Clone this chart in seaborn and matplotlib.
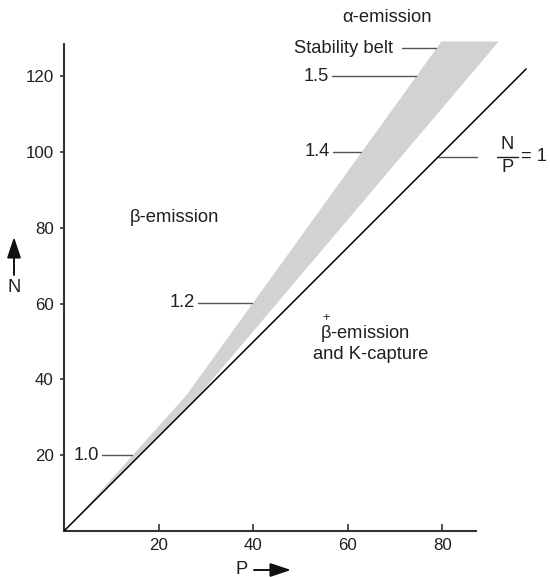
import numpy as np
import pandas as pd
import matplotlib
matplotlib.use("Agg")
import matplotlib.pyplot as plt
import seaborn as sns

# ---------------- data ----------------
ratio_line_P = [0, 97.7]          # the "N/P = 1" reference line
ratio_line_N = [0, 121.9]

belt_N = [0, 36.0, 129.3]         # stability belt outline
belt_P_upper = [0, 25.8, 79.7]    # upper/left edge (higher N/P)
belt_P_lower = [0, 28.5, 91.8]    # lower/right edge

x_ticks = [20, 40, 60, 80]
y_ticks = [20, 40, 60, 80, 100, 120]

ratio_labels = ["1.0", "1.2", "1.4", "1.5"]
ratio_label_N = [20.0, 60.2, 100.0, 120.0]

# ---------------- style ----------------
sns.set_theme(style="white")
plt.rcParams['font.family'] = ['Liberation Sans', 'DejaVu Sans']
plt.rcParams['mathtext.fontset'] = 'custom'
plt.rcParams['mathtext.rm'] = 'Liberation Sans'
plt.rcParams['mathtext.it'] = 'Liberation Sans:italic'
plt.rcParams['mathtext.bf'] = 'Liberation Sans:bold'
TXT = '#231f20'
LEAD = '#555555'
FS = 13.2

fig = plt.figure(figsize=(5.5, 5.77), dpi=100)
ax = fig.add_axes([64 / 550, 46 / 577, 480 / 550, 530 / 577])
ax.set_xlim(0, 480 / 4.73)
ax.set_ylim(0, 530 / 3.79)

# belt
ax.fill_betweenx(belt_N, belt_P_upper, belt_P_lower, color='#d1d2d4', lw=0, zorder=1)

# N/P = 1 line
df = pd.DataFrame({'P': ratio_line_P, 'N': ratio_line_N})
sns.lineplot(data=df, x='P', y='N', ax=ax, color='black', lw=1.1, legend=False, zorder=3)

# ratio leader lines + labels
label_start = [8.0, 28.3, 56.9, 56.7]
for lab, n, p0 in zip(ratio_labels, ratio_label_N, label_start):
    p1 = np.interp(n, belt_N, belt_P_upper)
    ax.plot([p0, p1], [n, n], color=LEAD, lw=1.0, zorder=2)
    ax.text(p0 - 0.6, n, lab, ha='right', va='center', fontsize=FS, color=TXT)

# stability belt label
ax.plot([71.5, np.interp(127.4, belt_N, belt_P_upper)], [127.4, 127.4], color=LEAD, lw=1.0)
ax.text(69.6, 127.4, "Stability belt", ha='right', va='center', fontsize=FS, color=TXT)

# N/P = 1 label
nline = 98.7
ax.plot([nline / (ratio_line_N[1] / ratio_line_P[1]), 87.3], [nline, nline], color=LEAD, lw=1.0)
ax.text(93.7, 101.9, "N", ha='center', va='center', fontsize=FS, color=TXT)
ax.text(93.7, 95.8, "P", ha='center', va='center', fontsize=FS, color=TXT)
ax.plot([91.5, 96.0], [nline, nline], color=TXT, lw=1.0, clip_on=False)
ax.text(96.6, nline, "= 1", ha='left', va='center', fontsize=FS, color=TXT)

# region labels
ax.text(68.3, 135.6, "α-emission", ha='center', va='center', fontsize=FS, color=TXT)
ax.text(14.0, 82.6, "β-emission", ha='left', va='center', fontsize=FS, color=TXT)
ax.text(54.1, 52.2, r"$\overset{+}{\mathrm{β}}$-emission", ha='left', va='baseline',
        fontsize=FS, color=TXT, transform=ax.transData)
ax.texts[-1].set_y(50.6)
ax.text(64.9, 46.7, "and K-capture", ha='center', va='center', fontsize=FS, color=TXT)

# axes styling
for s in ['top', 'right']:
    ax.spines[s].set_visible(False)
for s in ['bottom', 'left']:
    ax.spines[s].set_color('#333333')
    ax.spines[s].set_linewidth(1.5)
ax.spines['bottom'].set_bounds(0, 87.1)
ax.spines['left'].set_bounds(0, 128.5)
ax.set_xticks(x_ticks)
ax.set_yticks(y_ticks)
ax.tick_params(axis='x', direction='in', length=5, width=1.2, pad=5, labelsize=12.2,
               colors='#333333', labelcolor=TXT, bottom=True)
ax.tick_params(axis='y', direction='out', length=3, width=1.2, pad=4.3, labelsize=12.2,
               colors='#333333', labelcolor=TXT, left=True)
ax.set_xlabel("")
ax.set_ylabel("")
ax.grid(False)

# axis arrow labels
arr = dict(arrowstyle='-|>,head_length=0.9,head_width=0.3', color='#111111', lw=1.4,
           shrinkA=0, shrinkB=0, mutation_scale=14)
ax.annotate("", xy=(14, 340), xytext=(14, 302), xycoords='figure pixels',
            textcoords='figure pixels', arrowprops=arr)
fig.text(14 / 550, 289 / 577, "N", ha='center', va='center', fontsize=FS, color=TXT)
ax.annotate("", xy=(291, 7), xytext=(254, 7), xycoords='figure pixels',
            textcoords='figure pixels', arrowprops=arr)
fig.text(242 / 550, 7.5 / 577, "P", ha='center', va='center', fontsize=FS, color=TXT)

fig.savefig("out.png", dpi=100)
